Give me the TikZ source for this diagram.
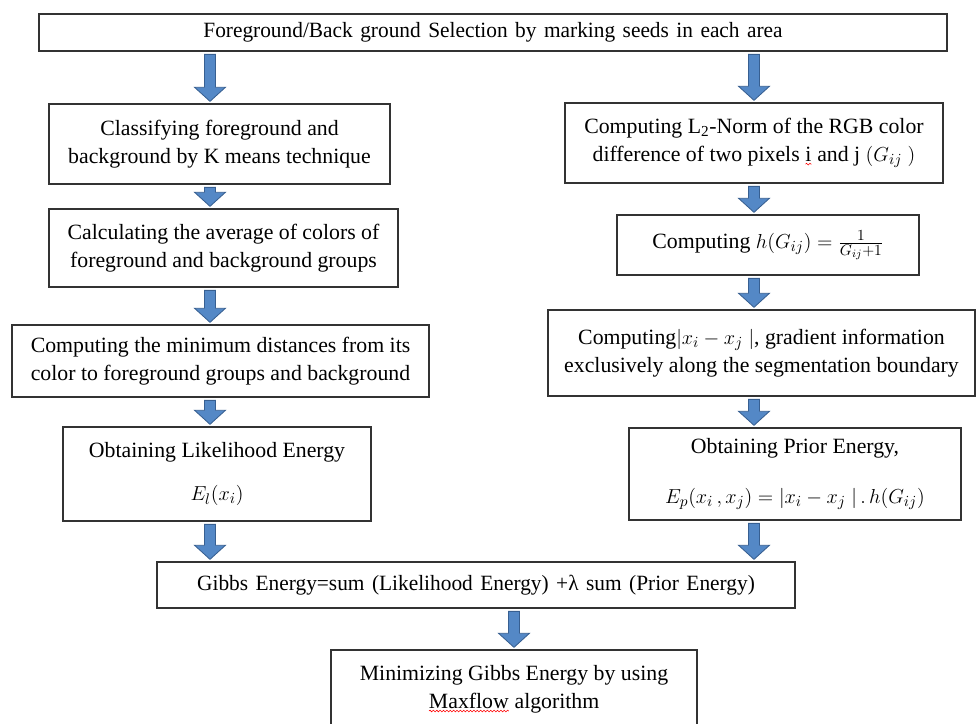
\documentclass[tikz,border=0pt]{standalone}
\usepackage{fontspec}
\setmainfont{Liberation Serif}
\newfontfamily\condfont[FakeStretch=0.98,WordSpace=1.4]{Liberation Serif}
\usetikzlibrary{calc,decorations.pathmorphing}

\definecolor{arrowblue}{RGB}{84,136,198}
\definecolor{arrowedge}{RGB}{55,95,145}
% red spell-check wave under a word
\newcommand{\spellmark}[1]{\tikz[baseline=(w.base)]{%
  \node[draw=none, inner sep=0pt, outer sep=0pt, minimum width=0pt, minimum height=0pt, align=left] (w) {#1};
  \draw[red, line width=0.4pt, decorate, decoration={snake, amplitude=0.6pt, segment length=2.4pt}]
    ([yshift=-1.8pt]w.south west) -- ([yshift=-1.8pt]w.south east);}}

\tikzset{
  box/.style={draw=black!80, line width=0.8pt, align=center, inner sep=2pt,
    font=\fontsize{15.5}{20}\selectfont},
  condensed/.style={font=\condfont\fontsize{15.5}{20}\selectfont},
  flow/.style={fill=arrowblue, draw=arrowedge, line width=0.6pt,
    to path={let \p1=(\tikztostart), \p2=(\tikztotarget) in
      (\x1-3.9pt,\y1-2pt) -- (\x1+3.9pt,\y1-2pt) -- (\x1+3.9pt,\y2+11.5pt)
      -- (\x1+11pt,\y2+11.5pt) -- (\x1,\y2+1.5pt) -- (\x1-11pt,\y2+11.5pt)
      -- (\x1-3.9pt,\y2+11.5pt) -- cycle}}
}

\begin{document}
\begin{tikzpicture}
\useasboundingbox (0,0) rectangle (24.475,-18.1);
\clip (0,0) rectangle (24.475,-18.1);

\node[box, condensed, minimum width=22.7cm, minimum height=0.925cm] (sel) at (12.325,-0.8125) {Foreground/Back ground Selection by marking seeds in each area};

% left column
\node[box, minimum width=8.525cm, minimum height=2cm] (cls) at (5.4875,-3.6) {Classifying foreground and\\background by K means technique};
\node[box, minimum width=8.725cm, minimum height=1.95cm] (avg) at (5.5875,-6.2) {Calculating the average of colors of\\foreground and background groups};
\node[box, minimum width=10.425cm, minimum height=1.8cm] (dist) at (5.5125,-9.025) {Computing the minimum distances from its\\color to foreground groups and background};
\node[box, minimum width=7.7cm, minimum height=2.35cm] (like) at (5.425,-11.85) {Obtaining Likelihood Energy\\[10.6pt]$E_l(x_i)$};

% right column
\node[box, minimum width=9.45cm, minimum height=2cm] (norm) at (18.85,-3.575) {Computing L\textsubscript{2}-Norm of the RGB color\\difference of two pixels \spellmark{i} and j $(G_{ij}\ )$};
\node[box, minimum width=7.55cm, minimum height=1.5cm] (hfun) at (19.2,-6.125) {Computing $h\bigl(G_{ij}\bigr)=\frac{1}{G_{ij}+1}$};
\node[box, minimum width=10.675cm, minimum height=2.15cm] (grad) at (19.0375,-8.825) {Computing$\bigl|x_i-x_j\ \bigr|$, gradient information\\exclusively along the segmentation boundary};
\node[box, minimum width=8.3cm, minimum height=2.3cm] (prior) at (19.875,-11.85) {Obtaining Prior Energy,\\[15pt]$E_p\bigl(x_i\,,x_j\bigr)=\bigl|x_i-x_j\ \bigr|\,.\,h(G_{ij})$};

\node[box, condensed, minimum width=15.95cm, minimum height=1.15cm] (gibbs) at (11.9,-14.625) {Gibbs Energy=sum (Likelihood Energy) +λ sum (Prior Energy)};
\node[box, minimum width=9.15cm, minimum height=1.95cm] (mini) at (12.85,-17.225) {Minimizing Gibbs Energy by using\\\spellmark{Maxflow} algorithm};

% block arrows
\coordinate (lcol) at (5.25,0);
\draw[flow] (sel.south -| lcol) to (cls.north -| lcol);
\draw[flow] (cls.south -| lcol) to (avg.north -| lcol);
\draw[flow] (avg.south -| lcol) to (dist.north -| lcol);
\draw[flow] (dist.south -| lcol) to (like.north -| lcol);
\draw[flow] (like.south -| lcol) to (gibbs.north -| lcol);
\draw[flow] (sel.south -| norm.north) to (norm.north);
\draw[flow] (norm.south) to (hfun.north -| norm.south);
\draw[flow] (hfun.south -| norm.south) to (grad.north -| norm.south);
\draw[flow] (grad.south -| norm.south) to (prior.north -| norm.south);
\draw[flow] (prior.south -| norm.south) to (gibbs.north -| norm.south);
\draw[flow] (gibbs.south -| mini.north) to (mini.north);
\end{tikzpicture}
\end{document}
